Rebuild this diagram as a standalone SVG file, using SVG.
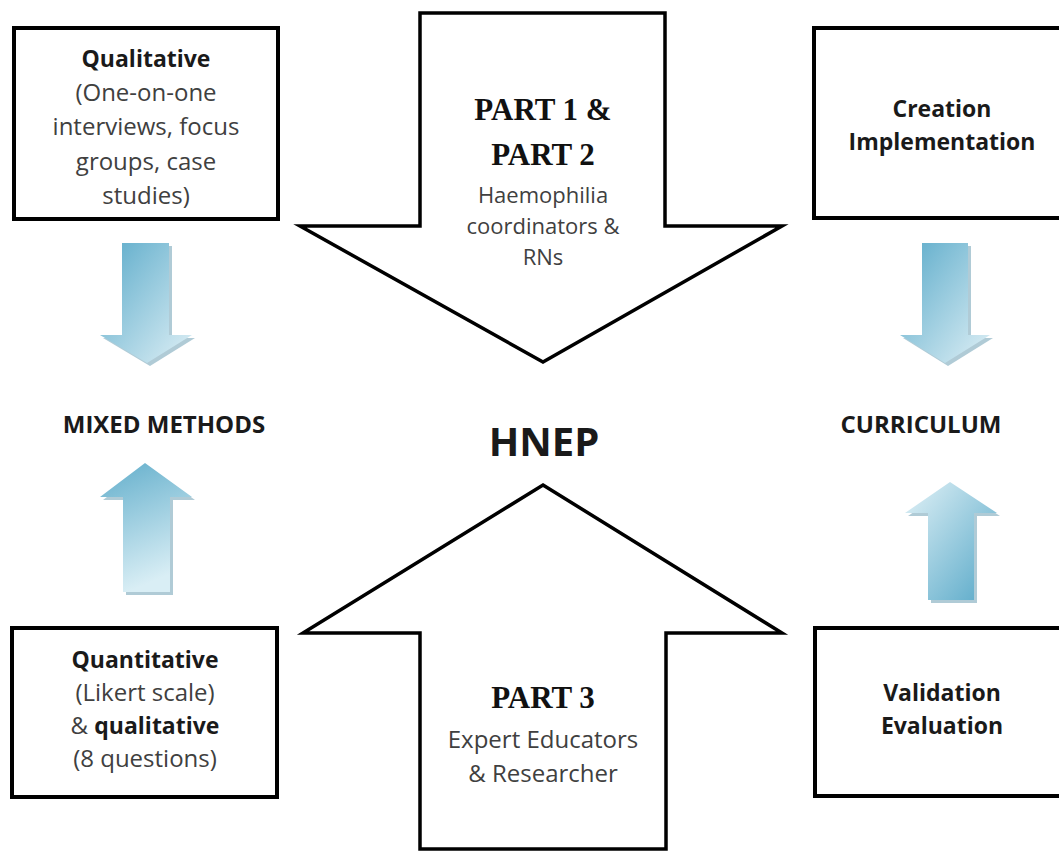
<svg xmlns="http://www.w3.org/2000/svg" width="1059" height="852" viewBox="0 0 1059 852">
<style>
.box{fill:#fff;stroke:#000;stroke-width:4}
.big{fill:#fff;stroke:#000;stroke-width:3.5;stroke-linejoin:miter}
.b{font-family:"Open Sans","Liberation Sans",sans-serif;font-weight:bold;fill:#1a1a1a;text-anchor:middle}
.n{font-family:"Open Sans","Liberation Sans",sans-serif;font-weight:normal;fill:#404040;text-anchor:middle}
.s{font-family:"Liberation Serif","DejaVu Serif",serif;font-weight:bold;fill:#111;text-anchor:middle}
.blue-shadow{fill:#8fb5c4;opacity:0.7}
</style>
<defs>
<linearGradient id="gDown" x1="0" y1="0" x2="1" y2="1">
<stop offset="0" stop-color="#5aaac9"/>
<stop offset="1" stop-color="#dff0f6"/>
</linearGradient>
<linearGradient id="gUpL" x1="0" y1="0" x2="0.3" y2="1">
<stop offset="0" stop-color="#62aecb"/>
<stop offset="1" stop-color="#d9eef5"/>
</linearGradient>
<linearGradient id="gUpR" x1="0" y1="0" x2="1" y2="1">
<stop offset="0" stop-color="#e2f2f7"/>
<stop offset="1" stop-color="#55a7c7"/>
</linearGradient>
</defs>

<g id="connectors">
<g id="arrow-left-down">
<polygon class="blue-shadow" points="125,246 172,246 172,338 195,338 150,366 103,338 125,338"/>
<polygon fill="url(#gDown)" points="122,243 169,243 169,335 192,335 147,363 100,335 122,335"/>
</g>
<g id="arrow-left-up">
<polygon class="blue-shadow" points="148,466 195,500 173,500 173,595 126,595 126,500 103,500"/>
<polygon fill="url(#gUpL)" points="145,463 192,497 170,497 170,592 123,592 123,497 100,497"/>
</g>
<g id="arrow-right-down">
<polygon class="blue-shadow" points="925,246 971,246 971,338 993,338 948,366 903,338 925,338"/>
<polygon fill="url(#gDown)" points="922,243 968,243 968,335 990,335 945,363 900,335 922,335"/>
</g>
<g id="arrow-right-up">
<polygon class="blue-shadow" points="953,485 1000,516 977,516 977,603 931,603 931,516 908,516"/>
<polygon fill="url(#gUpR)" points="950,482 997,513 974,513 974,600 928,600 928,513 905,513"/>
</g>
</g>

<g id="node-qualitative">
<rect class="box" x="14" y="28" width="264" height="191"/>
<text class="b" x="146" y="67" font-size="23">Qualitative</text>
<text class="n" x="146" y="101" font-size="24">(One-on-one</text>
<text class="n" x="146" y="135" font-size="24">interviews, focus</text>
<text class="n" x="146" y="170" font-size="24">groups, case</text>
<text class="n" x="146" y="204" font-size="24">studies)</text>
</g>

<g id="node-part12">
<polygon class="big" points="420,13 665,13 665,226 782,226 543,362 300,226 420,226"/>
<text class="s" x="543" y="120" font-size="31">PART 1 &amp;</text>
<text class="s" x="543" y="165" font-size="31">PART 2</text>
<text class="n" x="543" y="203" font-size="22">Haemophilia</text>
<text class="n" x="543" y="234" font-size="22">coordinators &amp;</text>
<text class="n" x="543" y="265" font-size="22">RNs</text>
</g>

<g id="node-creation">
<rect class="box" x="814" y="28" width="260" height="190"/>
<text class="b" x="942" y="117" font-size="23">Creation</text>
<text class="b" x="942" y="150" font-size="23">Implementation</text>
</g>

<g id="node-mixed">
<text class="b" x="164" y="433" font-size="24">MIXED METHODS</text>
</g>

<g id="node-hnep">
<text class="b" x="544" y="456" font-size="40">HNEP</text>
</g>

<g id="node-curriculum">
<text class="b" x="921" y="433" font-size="24">CURRICULUM</text>
</g>

<g id="node-part3">
<polygon class="big" points="543,485 782,633 666,633 666,849 420,849 420,633 303,633"/>
<text class="s" x="543" y="708" font-size="31">PART 3</text>
<text class="n" x="543" y="748" font-size="24">Expert Educators</text>
<text class="n" x="543" y="782" font-size="24">&amp; Researcher</text>
</g>

<g id="node-quantitative">
<rect class="box" x="12" y="628" width="265" height="169"/>
<text class="b" x="145" y="668" font-size="23">Quantitative</text>
<text class="n" x="145" y="701" font-size="24">(Likert scale)</text>
<text class="n" x="145" y="734" font-size="24">&amp; <tspan font-weight="bold" fill="#1a1a1a" font-size="23">qualitative</tspan></text>
<text class="n" x="145" y="767" font-size="24">(8 questions)</text>
</g>

<g id="node-validation">
<rect class="box" x="815" y="628" width="260" height="168"/>
<text class="b" x="942" y="701" font-size="23">Validation</text>
<text class="b" x="942" y="734" font-size="23">Evaluation</text>
</g>
</svg>
